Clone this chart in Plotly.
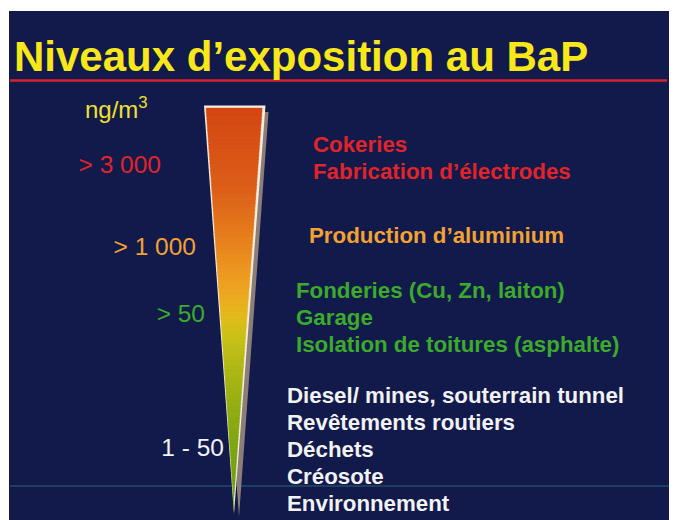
import plotly.graph_objects as go

# ---- data ----
title_text = "Niveaux d’exposition au BaP"
unit_label = "ng/m<sup>3</sup>"
levels = ["> 3 000", "> 1 000", "> 50", "1 - 50"]
sources = [
    ["Cokeries", "Fabrication d’électrodes"],
    ["Production d’aluminium"],
    ["Fonderies (Cu, Zn, laiton)", "Garage", "Isolation de toitures (asphalte)"],
    ["Diesel/ mines, souterrain tunnel", "Revêtements routiers", "Déchets",
     "Créosote", "Environnement"],
]

# ---- style / layout ----
W, H = 677, 520
OFF = 8  # page body margin in the browser
navy = "#111a4b"
level_colors = ["#e0242a", "#f2a132", "#3caa2a", "#f2f2f2"]
level_x = [161, 196, 205, 224]          # right edge of level labels
level_y = [167, 249, 316, 450]
source_x = [313, 309, 296, 287]
source_y0 = [146, 237, 292, 397]
line_gap = 27
FONT = "Liberation Sans, Arial, sans-serif"

# triangle geometry (pixel coords)
tl, tr, tip = (205.5, 107), (263.5, 107), (234, 512)
shadow_dx, shadow_dy = 5, 5
grad = [(0.0, (212, 70, 20)), (0.2, (220, 94, 24)), (0.35, (232, 134, 30)),
        (0.42, (236, 156, 32)), (0.48, (236, 172, 32)), (0.53, (222, 190, 26)),
        (0.58, (198, 192, 24)), (0.67, (168, 182, 20)), (0.78, (138, 170, 18)),
        (1.0, (100, 156, 16))]


def grad_color(t):
    for (a, ca), (b, cb) in zip(grad[:-1], grad[1:]):
        if a <= t <= b:
            f = (t - a) / (b - a) if b > a else 0
            c = [round(ca[i] + (cb[i] - ca[i]) * f) for i in range(3)]
            return "rgb(%d,%d,%d)" % tuple(c)
    return "rgb(%d,%d,%d)" % grad[-1][1]


fig = go.Figure()

# shadow
fig.add_trace(go.Scatter(
    x=[tl[0] + shadow_dx, tr[0] + shadow_dx, tip[0] + shadow_dx, tl[0] + shadow_dx],
    y=[tl[1] + shadow_dy, tr[1] + shadow_dy, tip[1] + shadow_dy, tl[1] + shadow_dy],
    fill="toself", fillcolor="#8c7d78", mode="lines", line=dict(width=0),
    hoverinfo="skip", showlegend=False))

# white outline triangle
fig.add_trace(go.Scatter(
    x=[tl[0] - 1.5, tr[0] + 2, tip[0], tl[0] - 1.5],
    y=[tl[1] - 1.5, tl[1] - 1.5, tip[1] + 2, tl[1] - 1.5],
    fill="toself", fillcolor="#f6eedc", mode="lines", line=dict(width=0),
    hoverinfo="skip", showlegend=False))

# gradient slices
N = 110
y_top, y_bot = tl[1] + 1, tip[1] - 3
def edges(y):
    f = (y - tl[1]) / (tip[1] - tl[1])
    return tl[0] + (tip[0] - tl[0]) * f + 0.5, tr[0] + (tip[0] - tr[0]) * f - 1.2
for k in range(N):
    ya = y_top + (y_bot - y_top) * k / N
    yb = y_top + (y_bot - y_top) * (k + 1) / N + 0.6
    la, ra = edges(ya)
    lb, rb = edges(yb)
    if rb < lb:
        rb = lb = (rb + lb) / 2
    col = grad_color((k + 0.5) / N)
    fig.add_trace(go.Scatter(
        x=[la, ra, rb, lb, la], y=[ya, ya, yb, yb, ya],
        fill="toself", fillcolor=col, mode="lines", line=dict(width=0.4, color=col),
        hoverinfo="skip", showlegend=False))

# level labels
for lab, col, x, y in zip(levels, level_colors, level_x, level_y):
    fig.add_trace(go.Scatter(
        x=[x], y=[y], mode="text", text=[lab], textposition="middle left",
        textfont=dict(family=FONT, size=24.5, color=col),
        hoverinfo="skip", showlegend=False))

# unit label
fig.add_trace(go.Scatter(
    x=[85], y=[112], mode="text", text=[unit_label], textposition="middle right",
    textfont=dict(family=FONT, size=24, color="#f0e030"),
    hoverinfo="skip", showlegend=False))

# sources
for grp, col, x, y0 in zip(sources, level_colors, source_x, source_y0):
    fig.add_trace(go.Scatter(
        x=[x] * len(grp), y=[y0 + i * line_gap for i in range(len(grp))],
        mode="text", text=["<b>%s</b>" % s for s in grp], textposition="middle right",
        textfont=dict(family=FONT, size=22.3, color=col),
        hoverinfo="skip", showlegend=False))

fig.update_layout(
    width=W - OFF, height=H - OFF, margin=dict(l=0, r=0, t=0, b=0),
    paper_bgcolor="white", plot_bgcolor="white",
    xaxis=dict(range=[OFF, W], visible=False, fixedrange=True),
    yaxis=dict(range=[H, OFF], visible=False, fixedrange=True),
    shapes=[
        dict(type="rect", xref="x", yref="y", x0=9, x1=675, y0=11, y1=521,
             fillcolor=navy, line=dict(width=0), layer="below"),
        dict(type="line", xref="x", yref="y", x0=10, x1=667, y0=80.5, y1=80.5,
             line=dict(color="#d8232a", width=2.5), layer="below"),
        dict(type="line", xref="x", yref="y", x0=10, x1=675, y0=486, y1=486,
             line=dict(color="#2f6078", width=1), layer="below"),
    ],
    annotations=[dict(
        x=12, y=56, xref="x", yref="y", xanchor="left", yanchor="middle",
        text="<b>%s</b>" % title_text, showarrow=False,
        font=dict(family=FONT, size=42, color="#f8e81a"))],
)

fig.write_html("out.html")
